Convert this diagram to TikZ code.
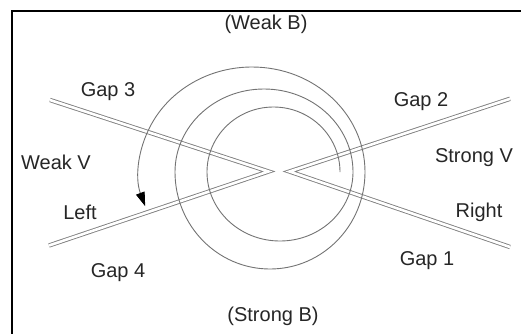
\documentclass[tikz,border=0pt]{standalone}
\usepackage{fontspec}
\setmainfont{Liberation Sans}
\usetikzlibrary{arrows.meta}
\begin{document}
\begin{tikzpicture}[x=1pt,y=-1pt,
  lbl/.style={font=\fontsize{20}{22}\selectfont, text=black!85, inner sep=0pt},
  gapline/.style={draw=black!50, line width=0.9pt, double=white, double distance=2.6pt, line join=miter},
  spiral/.style={draw=black!55, line width=0.9pt},
  frame/.style={draw=black, line width=2.3pt}]
\useasboundingbox (0,0) rectangle (521,333);
% frame (only top and left edges fall inside the picture)
\draw[frame] (12,340) -- (12,11) -- (530,11);
% chevrons of the gaps
\coordinate (ul) at (50,100);
\coordinate (ll) at (49,245.5);
\coordinate (lv) at (268.5,171.5);
\coordinate (ur) at (510,98.8);
\coordinate (lr) at (510,247);
\coordinate (rv) at (289.5,171.5);
\draw[gapline] (ul) -- (lv) -- (ll);
\draw[gapline] (ur) -- (rv) -- (lr);
% spiral
\coordinate (sp) at (340,172);
\draw[spiral, -{Triangle[length=14pt,width=9pt,color=black]}] (sp)
  arc[start angle=0, end angle=180, x radius=66.5pt, y radius=65pt]
  arc[start angle=180, end angle=360, x radius=73pt, y radius=69pt]
  arc[start angle=0, end angle=180, x radius=89pt, y radius=83pt]
  arc[start angle=180, end angle=360, x radius=95pt, y radius=97pt]
  arc[start angle=0, end angle=199, x radius=113pt, y radius=105pt];
% labels
\node[lbl] (wb) at (266,24) {(Weak B)};
\node[lbl] (g3) at (108,92) {Gap 3};
\node[lbl] (g2) at (421,102) {Gap 2};
\node[lbl] (wv) at (56,162) {Weak V};
\node[lbl] (sv) at (474,158) {Strong V};
\node[lbl] (lf) at (80,212) {Left};
\node[lbl] (rt) at (479,212) {Right};
\node[lbl] (g1) at (427,261) {Gap 1};
\node[lbl] (g4) at (118,273) {Gap 4};
\node[lbl] (sb) at (273,316) {(Strong B)};
\end{tikzpicture}
\end{document}
